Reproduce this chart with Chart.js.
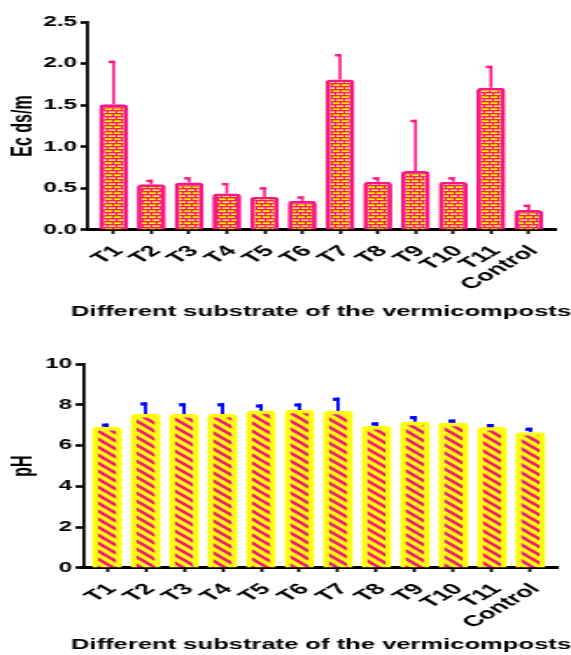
<!DOCTYPE html>
<html><head><meta charset="utf-8">
<script src="https://cdn.jsdelivr.net/npm/chart.js@4.4.1/dist/chart.umd.min.js"></script>
<style>
html,body{margin:0;padding:0;background:#fff;}
canvas{display:block;}
</style></head>
<body>
<canvas id="ec" width="326" height="327" style="width:571px;height:327px"></canvas>
<canvas id="ph" width="326" height="328" style="width:571px;height:328px"></canvas>
<script>
const categories = ['T1','T2','T3','T4','T5','T6','T7','T8','T9','T10','T11','Control'];
const ecValues = [1.51, 0.55, 0.57, 0.44, 0.40, 0.35, 1.81, 0.58, 0.71, 0.58, 1.71, 0.24];
const ecErrors = [0.51, 0.04, 0.05, 0.11, 0.10, 0.04, 0.29, 0.04, 0.60, 0.04, 0.25, 0.05];
const phValues = [6.91, 7.55, 7.55, 7.55, 7.71, 7.75, 7.70, 6.96, 7.17, 7.12, 6.91, 6.66];
const phErrors = [0.09, 0.49, 0.45, 0.45, 0.23, 0.24, 0.57, 0.10, 0.20, 0.08, 0.07, 0.14];
const ecTicks = [0, 0.5, 1.0, 1.5, 2.0, 2.5];
const phTicks = [0, 2, 4, 6, 8, 10];
const xTitle = 'Different substrate of the vermicomposts';

const MAGENTA = '#FA1783';
const YELLOW = '#FFFF00';
const FONT = "'Liberation Sans', Arial, sans-serif";

function brickPattern() {
  const c = document.createElement('canvas');
  c.width = 10; c.height = 6;
  const g = c.getContext('2d');
  g.fillStyle = MAGENTA; g.fillRect(0, 0, 10, 6);
  const brick = (x, y, w) => {
    g.fillStyle = '#F6A81E'; g.fillRect(x, y, w, 1);
    g.fillStyle = '#FFF200'; g.fillRect(x, y + 1, w, 1);
  };
  brick(0, 0, 4); brick(5, 0, 4);
  brick(2, 3, 4); brick(7, 3, 3); brick(0, 3, 1);
  return g.createPattern(c, 'repeat');
}
function stripePattern() {
  const c = document.createElement('canvas');
  c.width = 8; c.height = 8;
  const g = c.getContext('2d');
  g.fillStyle = YELLOW; g.fillRect(0, 0, 8, 8);
  g.strokeStyle = '#EE1A7E'; g.lineWidth = 2.6;
  for (const k of [-8, 0, 8]) {
    g.beginPath(); g.moveTo(-3, k - 3); g.lineTo(11, k + 11); g.stroke();
  }
  return g.createPattern(c, 'repeat');
}

const errorBars = {
  id: 'errorBars',
  afterDatasetsDraw(chart, args, opts) {
    const { ctx } = chart;
    const x = chart.scales.x, y = chart.scales.y;
    ctx.save();
    ctx.strokeStyle = opts.color;
    opts.values.forEach((v, i) => {
      const px = x.getPixelForValue(i);
      const y0 = y.getPixelForValue(v);
      const y1 = y.getPixelForValue(v + opts.errors[i]);
      ctx.lineWidth = opts.lineWidth;
      ctx.beginPath(); ctx.moveTo(px, y0); ctx.lineTo(px, y1 - opts.capWidth / 2); ctx.stroke();
      ctx.lineWidth = opts.capWidth;
      ctx.beginPath(); ctx.moveTo(px - opts.capLen, y1); ctx.lineTo(px + opts.lineWidth / 2, y1); ctx.stroke();
    });
    ctx.restore();
  }
};

function makeChart(id, cfg) {
  return new Chart(document.getElementById(id), {
    type: 'bar',
    data: {
      datasets: [{
        data: cfg.values.map((v, i) => ({ x: i, y: v })),
        backgroundColor: cfg.fill,
        borderColor: cfg.border,
        borderWidth: cfg.borderWidth,
        borderRadius: 3,
        borderSkipped: 'start',
        categoryPercentage: 1,
        barPercentage: cfg.barPct
      }]
    },
    options: {
      responsive: false,
      animation: false,
      layout: { padding: { top: cfg.padTop, right: 0, left: 0, bottom: 0 } },
      plugins: {
        legend: { display: false },
        tooltip: { enabled: false },
        title: {
          display: true, position: 'bottom', align: 'end', text: xTitle, color: '#000',
          padding: { top: 0, bottom: cfg.titlePad },
          font: { family: FONT, size: 14.6, weight: 'bold', lineHeight: 1.2 }
        },
        errorBars: { values: cfg.values, errors: cfg.errors, color: cfg.errColor, lineWidth: cfg.errLw, capWidth: cfg.capW, capLen: 2.9 }
      },
      scales: {
        x: {
          type: 'linear',
          offset: false,
          min: cfg.xMin, max: cfg.xMax,
          afterBuildTicks: s => { s.ticks = categories.map((c, i) => ({ value: i })); },
          afterFit: s => { s.height = cfg.xHeight; s.paddingLeft = 0; s.paddingRight = cfg.padRight; },
          ticks: {
            callback: (v, i) => categories[i],
            autoSkip: false, minRotation: 45, maxRotation: 45,
            color: '#000', padding: 8, labelOffset: 3,
            font: { family: FONT, size: 15.5, weight: 'bold' }
          },
          grid: { display: true, offset: false, drawOnChartArea: false, drawTicks: true, tickLength: 4, tickWidth: 1.7, tickColor: '#000' },
          border: { display: true, color: '#000', width: 3 }
        },
        y: {
          min: cfg.yTicks[0], max: cfg.yTicks[cfg.yTicks.length - 1],
          afterBuildTicks: s => { s.ticks = cfg.yTicks.map(v => ({ value: v })); },
          afterFit: s => { s.width = cfg.yWidth; },
          ticks: {
            callback: v => cfg.yFmt(v),
            color: '#000', padding: 2,
            font: { family: FONT, size: 13.8, weight: 'bold' }
          },
          grid: { display: true, drawOnChartArea: false, drawTicks: true, tickLength: 4.3, tickWidth: 2.6, tickColor: '#000' },
          border: { display: true, color: '#000', width: 1.8 },
          title: { display: true, text: cfg.yTitle, color: '#000', padding: { top: 3.5, bottom: 0 },
                   font: { family: FONT, size: 16, weight: 'bold' } }
        }
      }
    },
    plugins: [errorBars]
  });
}

makeChart('ec', {
  values: ecValues, errors: ecErrors, yTicks: ecTicks, yFmt: v => v.toFixed(1), yTitle: 'Ec ds/m',
  fill: brickPattern(), border: MAGENTA, borderWidth: 2.8, barPct: 0.77,
  errColor: MAGENTA, errLw: 1.6, capW: 2.4,
  xMin: -0.676, xMax: 11.71, padTop: 22, padRight: 8.9, xHeight: 73.3, yWidth: 50.3, titlePad: 6.2
});
makeChart('ph', {
  values: phValues, errors: phErrors, yTicks: phTicks, yFmt: v => String(v), yTitle: 'pH',
  fill: stripePattern(), border: YELLOW, borderWidth: 3.4, barPct: 0.78,
  errColor: '#0000FF', errLw: 1.9, capW: 3.2,
  xMin: -0.624, xMax: 11.705, padTop: 37, padRight: 7.7, xHeight: 68.3, yWidth: 47.4, titlePad: 1.2
});
</script>
</body></html>
